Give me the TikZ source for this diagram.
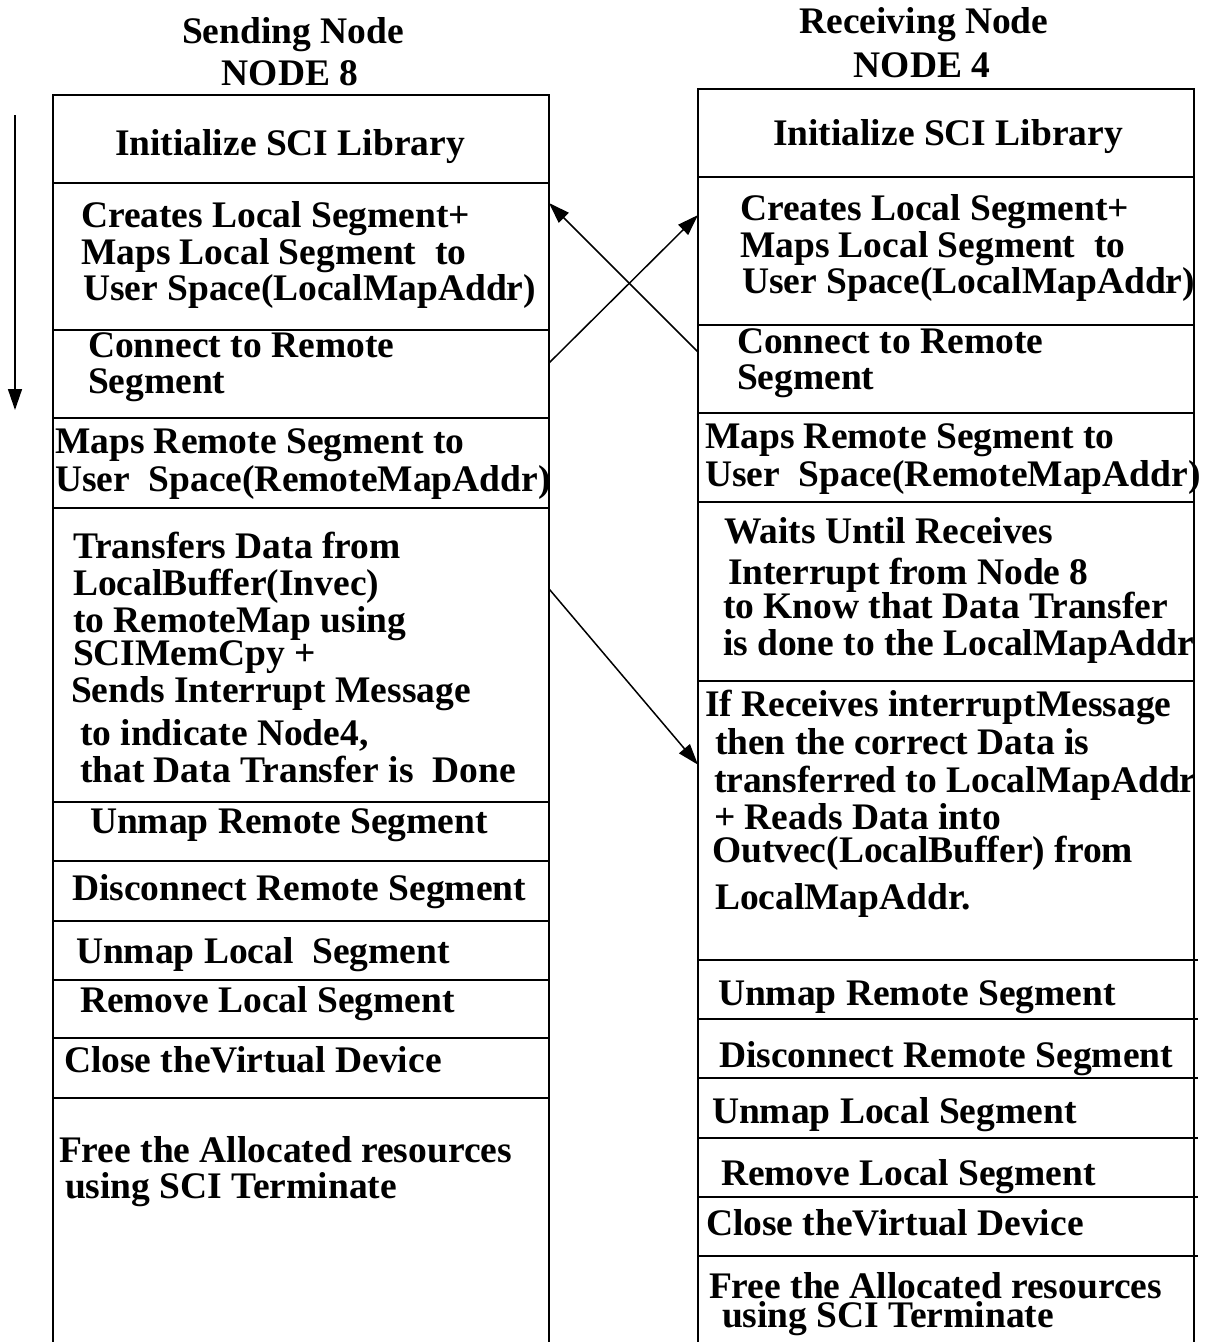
\documentclass[tikz,border=0pt]{standalone}
\usepackage{fontspec}
\setmainfont{Liberation Serif}
\usetikzlibrary{calc,arrows.meta}

% a block of text lines: baselines are placed by explicit gaps
\newcommand\txline[3][0]{\vskip#2pt\hbox{\hskip#1pt #3}}
\newcommand\txfirst[2][0]{\hbox{\hskip#1pt #2}}
\newcommand\txblock[1]{\vtop{\baselineskip=0pt\lineskip=0pt\lineskiplimit=-1000pt #1}}
\newcommand\ctrline[1]{\hbox to 400pt{\hss #1\hss}}

\begin{document}
\begin{tikzpicture}[x=1pt,y=-1pt,
  cell/.style={draw, line width=1.7pt, rectangle, anchor=north west,
               inner sep=0pt, outer sep=0pt, minimum width=496pt},
  txt/.style={anchor=base west, inner sep=0pt, outer sep=0pt,
              font=\fontsize{37.5}{37.5}\selectfont\bfseries},
  ttl/.style={anchor=base, inner sep=0pt, outer sep=0pt,
              font=\fontsize{37.5}{37.5}\selectfont\bfseries},
  flow/.style={line width=1.5pt, -{Triangle[length=21pt,width=14pt]}}]
\useasboundingbox (0,0) rectangle (1209,1342);

% ---------- sending side column ----------
\node[cell, minimum height=88pt]  (s-init)    at (53,95)   {};
\node[cell, minimum height=147pt] (s-create)  at (53,183)  {};
\node[cell, minimum height=88pt]  (s-connect) at (53,330)  {};
\node[cell, minimum height=90pt]  (s-mapr)    at (53,418)  {};
\node[cell, minimum height=294pt] (s-xfer)    at (53,508)  {};
\node[cell, minimum height=59pt]  (s-unmapr)  at (53,802)  {};
\node[cell, minimum height=60pt]  (s-disc)    at (53,861)  {};
\node[cell, minimum height=59pt]  (s-unmapl)  at (53,921)  {};
\node[cell, minimum height=58pt]  (s-rem)     at (53,980)  {};
\node[cell, minimum height=60pt]  (s-close)   at (53,1038) {};
\node[cell, minimum height=270pt] (s-free)    at (53,1098) {};

% ---------- receiving side column ----------
\node[cell, minimum height=88pt]  (r-init)    at (698,89)   {};
\node[cell, minimum height=148pt] (r-create)  at (698,177)  {};
\node[cell, minimum height=88pt]  (r-connect) at (698,325)  {};
\node[cell, minimum height=89pt]  (r-mapr)    at (698,413)  {};
\node[cell, minimum height=179pt] (r-wait)    at (698,502)  {};
\node[cell, minimum height=279pt] (r-recv)    at (698,681)  {};
\node[cell, minimum height=59pt]  (r-unmapr)  at (698,960)  {};
\node[cell, minimum height=59pt]  (r-disc)    at (698,1019) {};
\node[cell, minimum height=60pt]  (r-unmapl)  at (698,1078) {};
\node[cell, minimum height=59pt]  (r-rem)     at (698,1138) {};
\node[cell, minimum height=59pt]  (r-close)   at (698,1197) {};
\node[cell, minimum height=110pt] (r-free)    at (698,1256) {};
% dividers of the lower cells run a little past the right border
\foreach \c in {r-unmapr,r-disc,r-unmapl,r-rem,r-close,r-free}
  \draw[line width=1.7pt] (\c.north east) -- ++(3.5,0);

% ---------- headings ----------
\node[ttl] (s-title) at (293,43) {\txblock{\ctrline{Sending Node}\vskip42pt\ctrline{\hskip-6pt NODE 8}}};
\node[ttl] (r-title) at (924,33) {\txblock{\ctrline{Receiving Node}\vskip44pt\ctrline{\hskip-4pt NODE 4}}};

% ---------- sending side texts ----------
\node[txt] (t-s-init) at (115,155) {Initialize SCI Library};
\node[txt] (t-s-create) at (81,227) {\txblock{%
  \txfirst{Creates Local Segment+}
  \txline{37}{Maps Local Segment\ \ to}
  \txline[2]{36}{User Space(LocalMapAddr)}}};
\node[txt] (t-s-connect) at (88,357) {\txblock{%
  \txfirst{Connect to Remote}
  \txline{36}{Segment}}};
\node[txt] (t-s-mapr) at (55,453) {\txblock{%
  \txfirst{Maps Remote Segment to}
  \txline{38}{User\ \ Space(RemoteMapAddr)}}};
\node[txt] (t-s-xfer) at (73,558) {\txblock{%
  \txfirst{Transfers Data from}
  \txline{37}{LocalBuffer(Invec)}
  \txline{37}{to RemoteMap using}
  \txline{33}{SCIMemCpy +}
  \txline[-2]{37}{Sends Interrupt Message}
  \txline[7]{43}{to indicate Node4,}
  \txline[7]{37}{that Data Transfer is\ \ Done}}};
\node[txt] (t-s-unmapr) at (90,833)  {Unmap Remote Segment};
\node[txt] (t-s-disc)   at (72,900)  {Disconnect Remote Segment};
\node[txt] (t-s-unmapl) at (76,963)  {Unmap Local\ \ Segment};
\node[txt] (t-s-rem)    at (80,1012) {Remove Local Segment};
\node[txt] (t-s-close)  at (64,1072) {Close theVirtual Device};
\node[txt] (t-s-free) at (59,1162) {\txblock{%
  \txfirst{Free the Allocated resources}
  \txline[6]{36}{using SCI Terminate}}};

% ---------- receiving side texts ----------
\node[txt] (t-r-init) at (773,145) {Initialize SCI Library};
\node[txt] (t-r-create) at (740,220) {\txblock{%
  \txfirst{Creates Local Segment+}
  \txline{37}{Maps Local Segment\ \ to}
  \txline[2]{36}{User Space(LocalMapAddr)}}};
\node[txt] (t-r-connect) at (737,353) {\txblock{%
  \txfirst{Connect to Remote}
  \txline{36}{Segment}}};
\node[txt] (t-r-mapr) at (705,448) {\txblock{%
  \txfirst{Maps Remote Segment to}
  \txline{38}{User\ \ Space(RemoteMapAddr)}}};
\node[txt] (t-r-wait) at (724,543) {\txblock{%
  \txfirst{Waits Until Receives}
  \txline[4]{41}{Interrupt from Node 8}
  \txline[-1]{34}{to Know that Data Transfer}
  \txline[-1]{37}{is done to the LocalMapAddr}}};
\node[txt] (t-r-recv) at (705,716) {\txblock{%
  \txfirst{If Receives interruptMessage}
  \txline[10]{38}{then the correct Data is}
  \txline[9]{38}{transferred to LocalMapAddr}
  \txline[9]{37}{+ Reads Data into}
  \txline[7]{33}{Outvec(LocalBuffer) from}
  \txline[10]{47}{LocalMapAddr.}}};
\node[txt] (t-r-unmapr) at (718,1005) {Unmap Remote Segment};
\node[txt] (t-r-disc)   at (719,1067) {Disconnect Remote Segment};
\node[txt] (t-r-unmapl) at (712,1123) {Unmap Local Segment};
\node[txt] (t-r-rem)    at (721,1185) {Remove Local Segment};
\node[txt] (t-r-close)  at (706,1235) {Close theVirtual Device};
\node[txt] (t-r-free) at (709,1298) {\txblock{%
  \txfirst{Free the Allocated resources}
  \txline[13]{29}{using SCI Terminate}}};

% ---------- connectors ----------
\coordinate (time-start) at (15,115);
\coordinate (time-end)   at (15,410);
\draw[flow] (time-start) -- (time-end);

\draw[flow] ($(s-connect.north east)!0.375!(s-connect.south east)$)
         -- ($(r-create.north west)!0.257!(r-create.south west)$);
\draw[flow] ($(r-connect.north west)!0.307!(r-connect.south west)$)
         -- ($(s-create.north east)!0.136!(s-create.south east)$);
\draw[flow] ($(s-xfer.north east)!0.275!(s-xfer.south east)$)
         -- ($(r-recv.north west)!0.30!(r-recv.south west)$);
\end{tikzpicture}
\end{document}
